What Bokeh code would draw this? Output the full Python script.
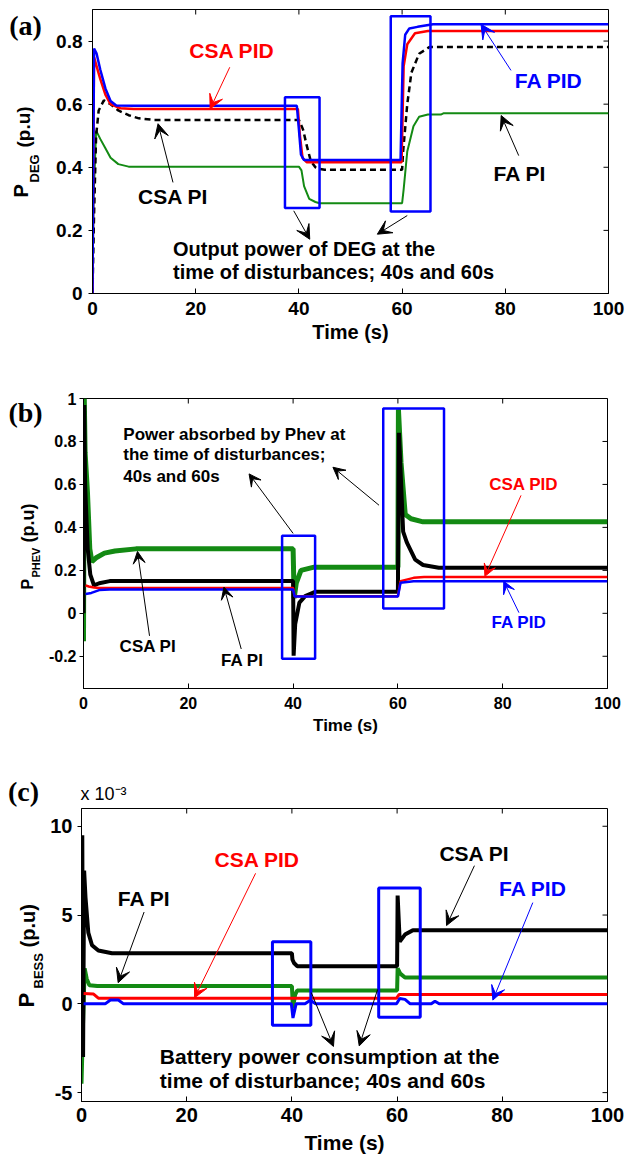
import math
from bokeh.plotting import figure
from bokeh.models import Range1d, FixedTicker, Label, Arrow, VeeHead, Title
from bokeh.core.properties import value
from bokeh.layouts import column, row
from bokeh.embed import file_html
from bokeh.resources import INLINE

FONT = "Liberation Sans"
SERIF = "Liberation Serif"
RED = "#ff0000"
BLUE = "#0000ff"
GREEN = "#138a13"
BLACK = "#000000"

# ---------------- ticks ----------------
x_ticks = [0, 20, 40, 60, 80, 100]
x_tick_labels = ["0", "20", "40", "60", "80", "100"]
ya_ticks = [0, 0.2, 0.4, 0.6, 0.8]
ya_tick_labels = ["0", "0.2", "0.4", "0.6", "0.8"]
yb_ticks = [-0.2, 0, 0.2, 0.4, 0.6, 0.8, 1]
yb_tick_labels = ["-0.2", "0", "0.2", "0.4", "0.6", "0.8", "1"]
yc_ticks = [-5, 0, 5, 10]
yc_tick_labels = ["-5", "0", "5", "10"]

# ---------------- panel (a): P_DEG ----------------
a_fapid_t = [0, 0.1, 0.3, 0.8, 1.5, 2.5, 3.5, 4.6, 8, 39.6, 40.0, 40.4, 41, 59.7, 60.1, 60.6, 61.4, 63, 66, 100]
a_fapid_v = [0, 0.30, 0.776, 0.76, 0.71, 0.65, 0.61, 0.596, 0.595, 0.595, 0.52, 0.44, 0.423, 0.423, 0.73, 0.82, 0.84, 0.845, 0.853, 0.853]
a_csapid_t = [0, 0.1, 0.3, 0.8, 1.5, 2.5, 3.5, 5.4, 8, 39.8, 40.2, 40.7, 41.5, 59.9, 60.3, 61, 62.5, 65, 100]
a_csapid_v = [0, 0.3, 0.749, 0.72, 0.68, 0.63, 0.60, 0.587, 0.585, 0.585, 0.50, 0.43, 0.416, 0.416, 0.72, 0.79, 0.825, 0.832, 0.832]
a_csapi_t = [0, 0.3, 0.7, 1.2, 2.2, 3.5, 5, 7, 9, 12, 40, 40.8, 41.5, 42.3, 43.2, 44, 45, 60, 60.2, 61, 61.8, 63.3, 65.3, 100]
a_csapi_v = [0, 0.25, 0.50, 0.58, 0.612, 0.60, 0.58, 0.565, 0.555, 0.55, 0.55, 0.52, 0.47, 0.42, 0.40, 0.395, 0.392, 0.392, 0.45, 0.60, 0.70, 0.76, 0.781, 0.781]
a_fapi_t = [0, 0.2, 0.7, 1.5, 2.5, 3.5, 5, 7, 40, 40.5, 41, 42, 43.2, 44, 60, 60.3, 61, 62.2, 63.3, 65, 67.5, 68, 100]
a_fapi_v = [0, 0.30, 0.516, 0.49, 0.46, 0.43, 0.41, 0.402, 0.402, 0.39, 0.34, 0.30, 0.29, 0.286, 0.286, 0.33, 0.45, 0.53, 0.56, 0.567, 0.567, 0.571, 0.571]
a_box_left = [37.3, 57.8]
a_box_right = [44.0, 65.5]
a_box_top = [0.622, 0.879]
a_box_bottom = [0.271, 0.260]

# ---------------- panel (b): P_PHEV ----------------
b_green_t = [0, 0.15, 0.3, 0.76, 1.2, 1.6, 2.5, 4, 6, 10, 40, 40.2, 40.6, 41.5, 44, 60, 60.1, 60.6, 61.4, 62.5, 64.8, 100]
b_green_v = [-0.13, 1.0, 0.75, 0.56, 0.30, 0.24, 0.26, 0.28, 0.29, 0.30, 0.30, 0.07, 0.14, 0.20, 0.215, 0.215, 0.95, 0.70, 0.46, 0.44, 0.426, 0.426]
b_black_t = [0, 0.15, 0.3, 0.8, 1.3, 2, 3, 5, 40, 40.1, 40.4, 41.2, 42.3, 44.2, 60, 60.2, 61, 61.7, 63.3, 64.8, 67.8, 100]
b_black_v = [0.0, 0.97, 0.6, 0.30, 0.18, 0.13, 0.14, 0.15, 0.15, -0.197, -0.05, 0.05, 0.08, 0.10, 0.10, 0.84, 0.38, 0.33, 0.25, 0.225, 0.212, 0.212]
b_red_t = [0.4, 1, 2, 3, 40, 40.3, 60, 60.5, 63, 65, 100]
b_red_v = [0.13, 0.125, 0.12, 0.118, 0.118, 0.08, 0.08, 0.15, 0.165, 0.169, 0.169]
b_blue_t = [0.4, 1.5, 3, 5, 40, 40.3, 60, 60.5, 63, 100]
b_blue_v = [0.09, 0.095, 0.108, 0.111, 0.111, 0.078, 0.078, 0.142, 0.149, 0.149]
b_box_left = [37.9, 57.2]
b_box_right = [44.2, 68.8]
b_box_top = [0.361, 0.954]
b_box_bottom = [-0.212, 0.022]

# ---------------- panel (c): P_BESS (x 1e-3) ----------------
c_black_t = [0, 0.15, 0.3, 0.5, 0.76, 1.3, 2, 3.2, 5.8, 40, 40.1, 40.4, 41, 60, 60.1, 60.5, 61.5, 63, 100]
c_black_v = [0, 9.5, -3.0, 7.5, 6.0, 4.0, 3.3, 3.0, 2.85, 2.85, 2.5, 2.3, 2.12, 2.12, 6.1, 3.5, 3.9, 4.15, 4.15]
c_green_t = [0, 0.3, 0.6, 1.0, 1.5, 3, 40, 40.2, 40.6, 41, 60, 60.1, 60.6, 61.5, 100]
c_green_v = [-4.5, -1.0, 2.0, 1.4, 1.05, 1.0, 1.0, -0.25, 0.5, 0.75, 0.75, 2.0, 1.7, 1.48, 1.48]
c_red_t = [0.4, 2.3, 3.2, 59.9, 60.4, 100]
c_red_v = [0.58, 0.55, 0.32, 0.32, 0.53, 0.53]
c_blue_t = [0.4, 4.5, 5.5, 7, 8, 39.9, 40.2, 40.8, 42.5, 43.5, 44.5, 59.9, 60.5, 61.5, 62.5, 66.5, 67.2, 68, 100]
c_blue_v = [0, 0, 0.22, 0.22, 0, 0, -0.8, 0, 0, 0.2, 0, 0, 0.3, 0.25, 0, 0, 0.15, 0, 0]
c_box_left = [36.3, 56.5]
c_box_right = [43.6, 64.4]
c_box_top = [3.5, 6.53]
c_box_bottom = [-1.21, -0.76]


def make_fig(fw, fh, bl, br, bt, bb, yr, yt, ytl, tick_fs, xlab_fs, lstand, bstand, xlab_stand):
    p = figure(frame_width=fw, frame_height=fh, x_range=Range1d(0, 100), y_range=Range1d(*yr),
               output_backend="svg", toolbar_location=None,
               min_border_left=bl, min_border_right=br, min_border_top=bt, min_border_bottom=bb)
    p.xgrid.visible = False
    p.ygrid.visible = False
    p.outline_line_color = "black"
    p.outline_line_alpha = 1
    p.background_fill_color = "white"
    p.border_fill_color = "white"

    xa = p.xaxis[0]
    xa.ticker = FixedTicker(ticks=x_ticks)
    xa.major_label_overrides = dict(zip(x_ticks, x_tick_labels))
    xa.axis_label = "Time (s)"
    xa.axis_label_text_font = FONT
    xa.axis_label_text_font_style = "bold"
    xa.axis_label_text_font_size = xlab_fs
    xa.axis_label_text_color = "black"
    xa.axis_label_standoff = xlab_stand
    xa.major_tick_in = 5
    xa.major_tick_out = 0
    xa.minor_tick_in = 0
    xa.minor_tick_out = 0
    xa.major_label_standoff = bstand

    ya = p.yaxis[0]
    ya.ticker = FixedTicker(ticks=yt)
    ya.major_label_overrides = dict(zip(yt, ytl))
    ya.major_tick_in = 0
    ya.major_tick_out = 4
    ya.minor_tick_in = 0
    ya.minor_tick_out = 0
    ya.major_label_standoff = lstand

    for ax in (xa, ya):
        ax.major_label_text_font = FONT
        ax.major_label_text_font_style = "bold"
        ax.major_label_text_font_size = tick_fs
        ax.major_label_text_color = "black"
        ax.axis_line_color = "black"
        ax.major_tick_line_color = "black"

    # inward tick marks on top and right frame edges, drawn from the tick lists
    p.ray(x=x_ticks, y=[yr[1]] * len(x_ticks), length=5, length_units="screen",
          angle=-math.pi / 2, line_color="black", line_width=1)
    p.ray(x=[100] * len(yt), y=yt, length=5, length_units="screen",
          angle=math.pi, line_color="black", line_width=1)
    return p


def strip(w, h, top, fh, bottom):
    # side strip whose frame is aligned with the main frame; y data = pixels from canvas bottom
    s = figure(width=w, height=h, x_range=Range1d(0, w), y_range=Range1d(bottom, bottom + fh),
               x_axis_type=None, y_axis_type=None, output_backend="svg", toolbar_location=None,
               min_border_left=0, min_border_right=0, min_border_top=top, min_border_bottom=bottom)
    s.xgrid.visible = False
    s.ygrid.visible = False
    s.outline_line_color = None
    s.background_fill_color = "white"
    s.border_fill_color = "white"
    return s


def stxt(s, h, x, ytop, t, size, font=FONT, angle=0.0, align="left", style="bold"):
    # ytop: pixel distance from top of the strip canvas
    s.text(x=[x], y=[h - ytop], text=[t], text_font=value(font), text_font_size=size,
           text_font_style=style, text_color="black", text_align=align, text_baseline="middle",
           angle=angle)


def txt(p, x, y, s, size, color="black", align="center", style="bold", font=FONT):
    p.add_layout(Label(x=x, y=y, text=s, text_font=font, text_font_size=size, text_font_style=style,
                       text_color=color, text_align=align, text_baseline="middle"))


def arrow(p, x0, y0, x1, y1, color="black", size=14):
    p.add_layout(Arrow(x_start=x0, y_start=y0, x_end=x1, y_end=y1, line_color=color, line_width=1,
                       end=VeeHead(size=size, fill_color=color, line_color=color, line_width=1)))


ROT = math.pi / 2

# ======== (a) ========
SA = 46
pa = make_fig(516, 284, 92 - SA, 17, 9, 87, (0, 0.9), ya_ticks, ya_tick_labels, "19px", "20px", 6, 8, 3)
pa.line(a_fapi_t, a_fapi_v, line_color=GREEN, line_width=2)
pa.line(a_csapi_t, a_csapi_v, line_color=BLACK, line_width=2.5, line_dash="6 4")
pa.line(a_csapid_t, a_csapid_v, line_color=RED, line_width=2.5)
pa.line(a_fapid_t, a_fapid_v, line_color=BLUE, line_width=2.5)
pa.quad(left=a_box_left, right=a_box_right, top=a_box_top, bottom=a_box_bottom,
        fill_color=None, line_color=BLUE, line_width=2.5)
txt(pa, 27, 0.77, "CSA PID", "21px", RED)
arrow(pa, 26.6, 0.717, 22.8, 0.585, RED)
txt(pa, 88.4, 0.675, "FA PID", "21px", BLUE)
arrow(pa, 81.1, 0.707, 75.3, 0.853, BLUE)
txt(pa, 15.6, 0.307, "CSA PI", "21px")
arrow(pa, 15.6, 0.352, 12.7, 0.538)
txt(pa, 82.8, 0.381, "FA PI", "21px")
arrow(pa, 82.6, 0.437, 79.2, 0.564)
txt(pa, 15.6, 0.141, "Output power of DEG at the", "20px", align="left")
txt(pa, 15.6, 0.067, "time of disturbances; 40s and 60s", "20px", align="left")
arrow(pa, 39.0, 0.262, 42.1, 0.172)
arrow(pa, 61.0, 0.247, 55.2, 0.188)

sa = strip(SA, 380, 9, 284, 87)
stxt(sa, 380, 25, 25, "(a)", "28px", font=SERIF, align="center")
stxt(sa, 380, 20.5, 197, "P", "20px", angle=ROT)
stxt(sa, 380, 34, 182, "DEG", "13px", angle=ROT)
stxt(sa, 380, 22.5, 147, "(p.u)", "19px", angle=ROT)

# ======== (b) ========
SB = 44
pb = make_fig(524, 290, 83 - SB, 18, 18, 72, (-0.35, 1.0), yb_ticks, yb_tick_labels, "16px", "17px", 3, 8, 4)
pb.line(b_green_t, b_green_v, line_color=GREEN, line_width=5)
pb.line(b_black_t, b_black_v, line_color=BLACK, line_width=4)
pb.line(b_red_t, b_red_v, line_color=RED, line_width=2.5)
pb.line(b_blue_t, b_blue_v, line_color=BLUE, line_width=2.5)
pb.quad(left=b_box_left, right=b_box_right, top=b_box_top, bottom=b_box_bottom,
        fill_color=None, line_color=BLUE, line_width=2.5)
txt(pb, 7.6, 0.834, "Power absorbed by Phev at", "17px", align="left")
txt(pb, 7.6, 0.737, "the time of disturbances;", "17px", align="left")
txt(pb, 7.6, 0.638, "40s and 60s", "17px", align="left")
arrow(pb, 40.0, 0.372, 31.6, 0.649, size=12)
arrow(pb, 56.4, 0.503, 47.6, 0.68, size=12)
txt(pb, 84, 0.6, "CSA PID", "17px", RED)
arrow(pb, 83.5, 0.549, 76.6, 0.172, RED, size=12)
txt(pb, 83.1, -0.043, "FA PID", "17px", BLUE)
arrow(pb, 83.1, 0.003, 80.2, 0.149, BLUE, size=12)
txt(pb, 12.3, -0.154, "CSA PI", "17px")
arrow(pb, 12.6, -0.105, 10.3, 0.288, size=12)
txt(pb, 30.3, -0.22, "FA PI", "17px")
arrow(pb, 30.1, -0.166, 26.8, 0.122, size=12)

sb = strip(SB, 380, 18, 290, 72)
stxt(sb, 380, 25, 32, "(b)", "28px", font=SERIF, align="center")
stxt(sb, 380, 27, 209, "P", "16px", angle=ROT)
stxt(sb, 380, 35, 197, "PHEV", "11px", angle=ROT)
stxt(sb, 380, 27, 162, "(p.u)", "18px", angle=ROT)

# ======== (c) ========
SC = 46
pc = make_fig(526, 293, 81 - SC, 18, 48, 56, (-5.5, 11), yc_ticks, yc_tick_labels, "20px", "21px", 5, 6, 6)
pc.line(c_green_t, c_green_v, line_color=GREEN, line_width=4)
pc.line(c_black_t, c_black_v, line_color=BLACK, line_width=4)
pc.line(c_red_t, c_red_v, line_color=RED, line_width=3)
pc.line(c_blue_t, c_blue_v, line_color=BLUE, line_width=3)
pc.quad(left=c_box_left, right=c_box_right, top=c_box_top, bottom=c_box_bottom,
        fill_color=None, line_color=BLUE, line_width=3)
txt(pc, 11.9, 5.93, "FA PI", "21px")
arrow(pc, 11.9, 5.17, 6.97, 1.19)
txt(pc, 33.4, 8.14, "CSA PID", "21px", RED)
arrow(pc, 33.1, 7.35, 21.5, 0.34, RED)
txt(pc, 74.7, 8.45, "CSA PI", "21px")
arrow(pc, 74.7, 7.78, 69.4, 4.41)
txt(pc, 85.8, 6.5, "FA PID", "21px", BLUE)
arrow(pc, 85.8, 5.7, 78.2, 0.21, BLUE)
txt(pc, 14.9, -2.94, "Battery power consumption at the", "21px", align="left")
txt(pc, 14.9, -4.34, "time of disturbance; 40s and 60s", "21px", align="left")
arrow(pc, 43.7, 0.63, 47.9, -2.4)
arrow(pc, 56.3, 0.81, 52.8, -2.37)
pc.add_layout(Title(text="x 10\u207b\u00b3", align="left", text_font=FONT, text_font_size="18px",
                    text_font_style="normal", text_color="black", standoff=9, offset=-1), "above")

sc = strip(SC, 397, 48, 293, 56)
sc.add_layout(Title(text="(c)", align="center", text_font=SERIF, text_font_size="28px",
                    text_font_style="bold", text_color="black", standoff=4), "above")
stxt(sc, 397, 26, 247, "P", "22px", angle=ROT)
stxt(sc, 397, 38, 228, "BESS", "13px", angle=ROT)
stxt(sc, 397, 27, 187, "(p.u)", "20px", angle=ROT)

layout = column(row(sa, pa, spacing=0), row(sb, pb, spacing=0), row(sc, pc, spacing=0), spacing=0)
open("out.html", "w").write(file_html(layout, INLINE))
